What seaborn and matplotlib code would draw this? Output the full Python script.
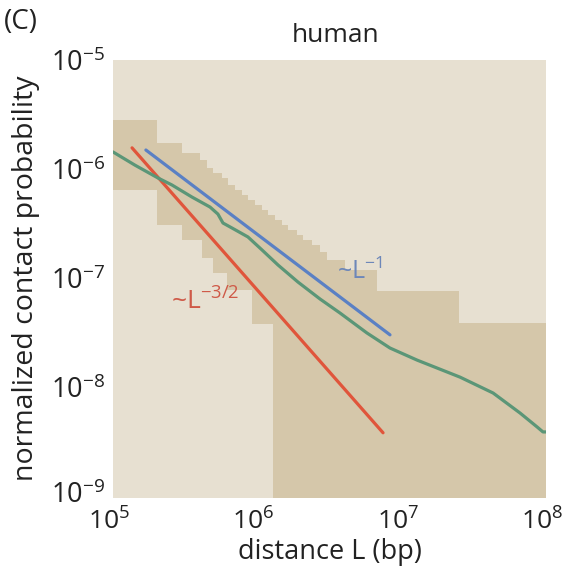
import matplotlib
matplotlib.use("Agg")
import matplotlib.pyplot as plt
import matplotlib.transforms as mtransforms
import seaborn as sns
import numpy as np
import pandas as pd
from matplotlib.ticker import FixedLocator, FixedFormatter

# ---------------- data ----------------
# measured contact probability curve (green)
curve_L = [1.00e5, 1.42e5, 2.05e5, 2.56e5, 3.52e5, 4.70e5, 5.33e5, 5.78e5, 6.67e5,
           8.61e5, 1.08e6, 1.39e6, 1.91e6, 2.72e6, 3.74e6, 5.75e6, 8.30e6, 1.28e7,
           2.54e7, 4.30e7, 6.61e7, 8.67e7, 9.53e7, 1.00e8]
curve_P = [1.44e-6, 1.09e-6, 8.32e-7, 7.18e-7, 5.57e-7, 4.51e-7, 3.89e-7, 3.22e-7, 2.90e-7,
           2.40e-7, 1.82e-7, 1.33e-7, 9.29e-8, 6.49e-8, 4.83e-8, 3.17e-8, 2.31e-8, 1.79e-8,
           1.25e-8, 8.95e-9, 5.87e-9, 4.38e-9, 3.94e-9, 3.94e-9]

# reference power laws (end points)
fit1_L = [1.69e5, 8.30e6]      # ~L^-1
fit1_P = [1.50e-6, 3.05e-8]
fit32_L = [1.355e5, 7.43e6]    # ~L^-3/2
fit32_P = [1.57e-6, 3.87e-9]

# shaded band: upper boundary (step, post)
band_up_L = [1e5, 2.02e5, 3.0e5, 4.0e5, 4.5e5, 4.9e5, 5.7e5, 6.3e5, 7.0e5, 7.8e5, 8.6e5,
             9.6e5, 1.08e6, 1.19e6, 1.33e6, 1.48e6, 1.63e6, 1.88e6, 2.07e6, 2.39e6,
             2.72e6, 3.04e6, 4.05e6, 6.74e6, 2.5e7, 1e8]
band_up_P = [2.82e-6, 1.74e-6, 1.41e-6, 1.22e-6, 1.03e-6, 9.2e-7, 8.3e-7, 7.2e-7, 6.5e-7,
             5.8e-7, 5.2e-7, 4.7e-7, 4.2e-7, 3.8e-7, 3.43e-7, 3.09e-7, 2.78e-7, 2.50e-7,
             2.25e-7, 2.03e-7, 1.75e-7, 1.48e-7, 1.20e-7, 7.7e-8, 3.9e-8, 3.9e-8]
# shaded band: lower boundary (step, post)
band_lo_L = [1e5, 2.02e5, 3.0e5, 4.14e5, 4.93e5, 6.17e5, 9.2e5, 1.29e6, 1e8]
band_lo_P = [6.46e-7, 3.09e-7, 2.25e-7, 1.54e-7, 1.12e-7, 7.85e-8, 3.84e-8, 1e-10, 1e-10]

x_ticks = [1e5, 1e6, 1e7, 1e8]
x_labels = [r'$10^{5}$', r'$10^{6}$', r'$10^{7}$', r'$10^{8}$']
y_ticks = [1e-9, 1e-8, 1e-7, 1e-6, 1e-5]
y_labels = [r'$10^{-9}$', r'$10^{-8}$', r'$10^{-7}$', r'$10^{-6}$', r'$10^{-5}$']

# ---------------- style ----------------
sns.set_theme(style="white")
FONT = "Open Sans"
plt.rcParams['font.family'] = [FONT, 'DejaVu Sans']
plt.rcParams['mathtext.fontset'] = 'custom'
plt.rcParams['mathtext.rm'] = FONT
plt.rcParams['mathtext.it'] = FONT
plt.rcParams['mathtext.bf'] = FONT
plt.rcParams['mathtext.default'] = 'regular'

LIGHT = '#e7e0d1'
DARK = '#d5c7aa'
BLUE = '#5a80c4'
RED = '#e0553b'
GREEN = '#5b9677'
TXT = '#222222'

W, H = 566, 574
fig = plt.figure(figsize=(W / 100, H / 100), dpi=100)
ax = fig.add_axes([113 / W, 1 - 497 / H, 433 / W, 437 / H])
ax.set_xscale('log')
ax.set_yscale('log')
ax.set_facecolor(LIGHT)

ax.fill_between(band_up_L, 1e-10, band_up_P, step='post', color=DARK, lw=0, zorder=1)
ax.fill_between(band_lo_L, 1e-10, band_lo_P, step='post', color=LIGHT, lw=0, zorder=1.1)

df_curve = pd.DataFrame({'L': curve_L, 'P': curve_P})
df_f1 = pd.DataFrame({'L': fit1_L, 'P': fit1_P})
df_f32 = pd.DataFrame({'L': fit32_L, 'P': fit32_P})
sns.lineplot(data=df_f32, x='L', y='P', ax=ax, color=RED, lw=2.3, zorder=3)
sns.lineplot(data=df_f1, x='L', y='P', ax=ax, color=BLUE, lw=2.3, zorder=3)
sns.lineplot(data=df_curve, x='L', y='P', ax=ax, color=GREEN, lw=2.3, zorder=4)

ax.set_xlim(1e5, 1e8)
ax.set_ylim(1e-9, 1e-5)

ax.xaxis.set_major_locator(FixedLocator(x_ticks))
ax.xaxis.set_major_formatter(FixedFormatter(x_labels))
ax.yaxis.set_major_locator(FixedLocator(y_ticks))
ax.yaxis.set_major_formatter(FixedFormatter(y_labels))
ax.xaxis.set_minor_locator(FixedLocator([]))
ax.yaxis.set_minor_locator(FixedLocator([]))

ax.tick_params(axis='x', which='major', bottom=True, direction='in', length=11, width=1.6,
               color='white', labelcolor=TXT, labelsize=19, pad=8)
ax.tick_params(axis='y', which='major', left=True, direction='in', length=14, width=1.6,
               color='white', labelcolor=TXT, labelsize=19.5, pad=6)
for sp in ax.spines.values():
    sp.set_visible(False)
ax.grid(False)
# no tick marks on the frame edges
for axis in (ax.xaxis, ax.yaxis):
    ticks = axis.get_major_ticks()
    for t in (ticks[0], ticks[-1]):
        t.tick1line.set_visible(False)

# small offsets of tick labels as in the reference
shift_x = mtransforms.ScaledTranslation(-4 / 100, 0, fig.dpi_scale_trans)
for lab in ax.get_xticklabels():
    lab.set_transform(lab.get_transform() + shift_x)
shift_y = mtransforms.ScaledTranslation(0, 5 / 100, fig.dpi_scale_trans)
first_ylab = ax.get_yticklabels()[0]
first_ylab.set_transform(first_ylab.get_transform() + shift_y)

ax.set_xlabel('distance L (bp)', fontsize=19.5, color=TXT, labelpad=2)
ax.set_ylabel('normalized contact probability', fontsize=20.5, color=TXT)
ax.yaxis.set_label_coords(-0.168, 0.5)

ax.text(5.14e6, 1.15e-7, '~L$^{-1}$', color='#6d87b9', fontsize=18, ha='center', va='center', zorder=5)
ax.text(4.34e5, 6.1e-8, '~L$^{-3/2}$', color='#cf5a48', fontsize=19, ha='center', va='center', zorder=5)

fig.text(336 / W, 1 - 35 / H, 'human', fontsize=19, color=TXT, ha='center', va='center')
fig.text(4 / W, 1 - 22 / H, '(C)', fontsize=20, color=TXT, ha='left', va='center')

fig.savefig('out.png', dpi=100)
